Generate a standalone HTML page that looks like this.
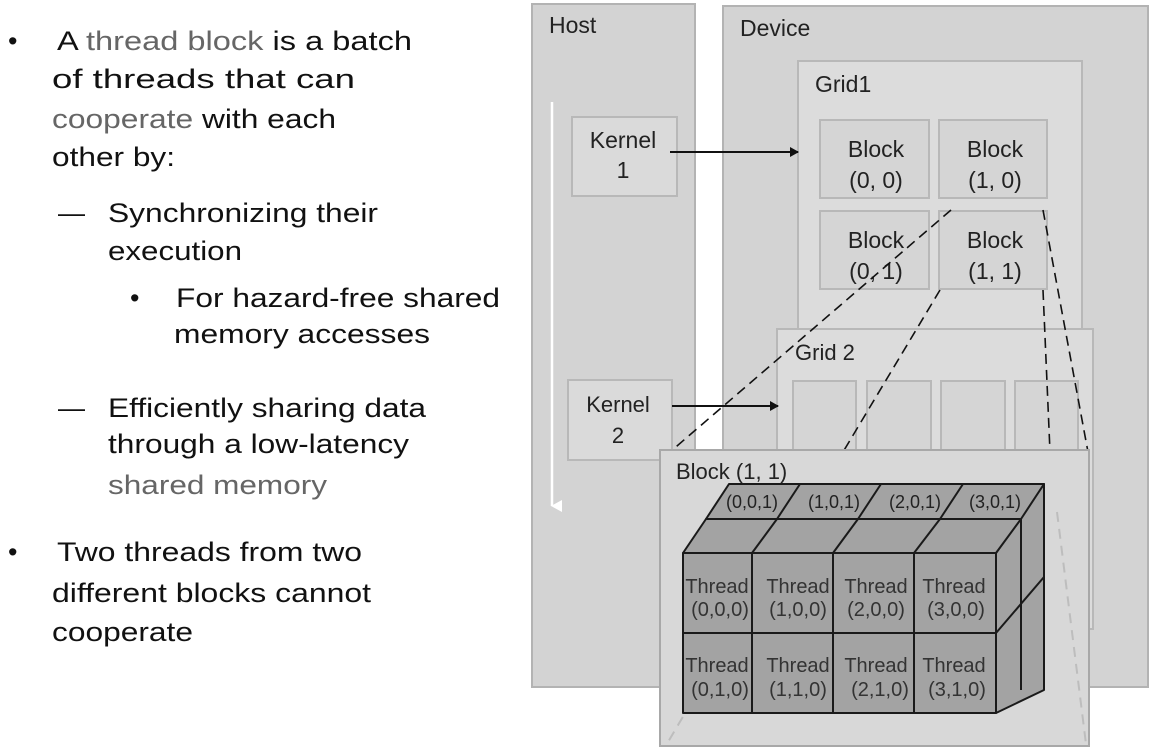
<!DOCTYPE html>
<html><head><meta charset="utf-8"><style>
body{margin:0;background:#fff;}
svg{display:block;font-family:"Liberation Sans",Arial,sans-serif;}
</style></head><body>
<svg width="1155" height="752" viewBox="0 0 1155 752" xmlns="http://www.w3.org/2000/svg">
<defs>
<marker id="ah" markerWidth="10" markerHeight="10" refX="8" refY="5" orient="auto" markerUnits="userSpaceOnUse"><path d="M0,0 L9,5 L0,10 z" fill="#111"/></marker>
<marker id="wh" markerWidth="12" markerHeight="12" refX="6" refY="10" orient="auto" markerUnits="userSpaceOnUse"><path d="M0,0 L6,11 L12,0 z" fill="#fff"/></marker>
</defs>
<g font-size="27" fill="#111">
<text x="8" y="50">•</text><text x="57" y="50" textLength="355" lengthAdjust="spacingAndGlyphs">A <tspan fill="#666">thread block</tspan> is a batch</text>
<text x="52" y="88" textLength="303" lengthAdjust="spacingAndGlyphs">of threads that can</text>
<text x="52" y="128" textLength="284" lengthAdjust="spacingAndGlyphs"><tspan fill="#666">cooperate</tspan> with each</text>
<text x="52" y="166" textLength="123" lengthAdjust="spacingAndGlyphs">other by:</text>
<text x="58" y="222">—</text><text x="108" y="222" textLength="270" lengthAdjust="spacingAndGlyphs">Synchronizing their</text>
<text x="108" y="260" textLength="134" lengthAdjust="spacingAndGlyphs">execution</text>
<text x="130" y="307">•</text><text x="176" y="307" textLength="324" lengthAdjust="spacingAndGlyphs">For hazard-free shared</text>
<text x="174" y="343" textLength="256" lengthAdjust="spacingAndGlyphs">memory accesses</text>
<text x="58" y="417">—</text><text x="108" y="417" textLength="318" lengthAdjust="spacingAndGlyphs">Efficiently sharing data</text>
<text x="108" y="453" textLength="301" lengthAdjust="spacingAndGlyphs">through a low-latency</text>
<text x="108" y="494" fill="#666" textLength="219" lengthAdjust="spacingAndGlyphs">shared memory</text>
<text x="8" y="561">•</text><text x="57" y="561" textLength="305" lengthAdjust="spacingAndGlyphs">Two threads from two</text>
<text x="52" y="602" textLength="319" lengthAdjust="spacingAndGlyphs">different blocks cannot</text>
<text x="52" y="641" textLength="141" lengthAdjust="spacingAndGlyphs">cooperate</text>
</g>
<rect x="532" y="4" width="163" height="683" fill="#d3d3d3" stroke="#b3b3b3" stroke-width="2"/>
<rect x="723" y="6" width="425" height="681" fill="#d3d3d3" stroke="#b3b3b3" stroke-width="2"/>
<g font-size="23" fill="#222">
<text x="549" y="33">Host</text><text x="740" y="36">Device</text></g>
<line x1="552" y1="102" x2="552" y2="506" stroke="#fff" stroke-width="2.5" marker-end="url(#wh)"/>
<rect x="572" y="117" width="105" height="79" fill="#dadada" stroke="#b8b8b8" stroke-width="2"/>
<g font-size="23" fill="#222" text-anchor="middle">
<text x="623" y="148">Kernel</text><text x="623" y="178">1</text></g>
<rect x="798" y="61" width="284" height="291" fill="#dcdcdc" stroke="#b8b8b8" stroke-width="2"/>
<text x="815" y="92" font-size="23" fill="#222">Grid1</text>
<g fill="#d5d5d5" stroke="#b8b8b8" stroke-width="2">
<rect x="820" y="120" width="109" height="78"/><rect x="939" y="120" width="108" height="78"/>
<rect x="820" y="211" width="109" height="78"/><rect x="939" y="211" width="108" height="78"/></g>
<g font-size="23" fill="#222" text-anchor="middle">
<text x="876" y="157">Block</text><text x="876" y="188">(0, 0)</text>
<text x="995" y="157">Block</text><text x="995" y="188">(1, 0)</text>
<text x="876" y="248">Block</text><text x="876" y="279">(0, 1)</text>
<text x="995" y="248">Block</text><text x="995" y="279">(1, 1)</text></g>
<line x1="670" y1="152" x2="798" y2="152" stroke="#111" stroke-width="2" marker-end="url(#ah)"/>
<rect x="777" y="329" width="316" height="300" fill="#dcdcdc" stroke="#b8b8b8" stroke-width="2"/>
<text x="795" y="360" font-size="22" fill="#222">Grid 2</text>
<g fill="#d5d5d5" stroke="#b8b8b8" stroke-width="2">
<rect x="793" y="381" width="63" height="100"/><rect x="867" y="381" width="64" height="100"/>
<rect x="941" y="381" width="64" height="100"/><rect x="1015" y="381" width="63" height="100"/></g>
<rect x="568" y="380" width="104" height="80" fill="#dadada" stroke="#b8b8b8" stroke-width="2"/>
<text x="618" y="412" font-size="22" fill="#222" text-anchor="middle">Kernel</text><text x="618" y="443" font-size="22" fill="#222" text-anchor="middle">2</text>
<line x1="672" y1="406" x2="778" y2="406" stroke="#111" stroke-width="2" marker-end="url(#ah)"/>
<g stroke="#111" stroke-width="1.6" stroke-dasharray="10,6" fill="none">
<line x1="951" y1="210" x2="670" y2="452"/>
<line x1="940" y1="290" x2="843" y2="452"/>
<line x1="1043" y1="210" x2="1088" y2="452"/>
<line x1="1043" y1="290" x2="1050" y2="452"/></g>
<rect x="660" y="450" width="429" height="296" fill="#d8d8d8" stroke="#a8a8a8" stroke-width="2"/>
<g stroke="#bdbdbd" stroke-width="2" stroke-dasharray="10,7" fill="none">
<line x1="778" y1="556" x2="668" y2="742"/><line x1="1057" y1="512" x2="1086" y2="744"/></g>
<text x="676" y="479" font-size="22" fill="#222">Block (1, 1)</text>
<g fill="#a3a3a3" stroke="#1a1a1a" stroke-width="2" stroke-linejoin="round">
<polygon points="996,553 1044,484 1044,690 996,713"/>
<polygon points="729,484 1044,484 1021,519 706,519"/>
<polygon points="706,519 1021,519 996,553 683,553"/>
<line x1="800" y1="484" x2="777" y2="519"/><line x1="881" y1="484" x2="858" y2="519"/><line x1="963" y1="484" x2="940" y2="519"/>
<line x1="777" y1="519" x2="752" y2="553"/><line x1="858" y1="519" x2="833" y2="553"/><line x1="940" y1="519" x2="914" y2="553"/>
<line x1="1021" y1="519" x2="1021" y2="690"/>
<line x1="996" y1="633" x2="1044" y2="577"/>
<rect x="683" y="553" width="313" height="160"/>
<line x1="752" y1="553" x2="752" y2="713"/><line x1="833" y1="553" x2="833" y2="713"/><line x1="914" y1="553" x2="914" y2="713"/>
<line x1="683" y1="633" x2="996" y2="633"/></g>
<g font-size="18" fill="#222" text-anchor="middle">
<text x="752" y="508">(0,0,1)</text><text x="834" y="508">(1,0,1)</text><text x="915" y="508">(2,0,1)</text><text x="995" y="508">(3,0,1)</text></g>
<g font-size="20" fill="#333" text-anchor="middle">
<text x="717" y="593">Thread</text><text x="720" y="616">(0,0,0)</text>
<text x="798" y="593">Thread</text><text x="798" y="616">(1,0,0)</text>
<text x="876" y="593">Thread</text><text x="876" y="616">(2,0,0)</text>
<text x="954" y="593">Thread</text><text x="956" y="616">(3,0,0)</text>
<text x="717" y="672">Thread</text><text x="720" y="696">(0,1,0)</text>
<text x="798" y="672">Thread</text><text x="798" y="696">(1,1,0)</text>
<text x="876" y="672">Thread</text><text x="880" y="696">(2,1,0)</text>
<text x="954" y="672">Thread</text><text x="957" y="696">(3,1,0)</text></g>
</svg>
</body></html>
